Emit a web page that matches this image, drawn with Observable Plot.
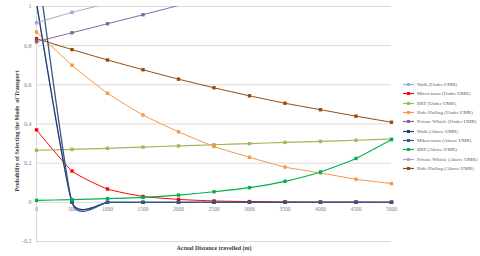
<!DOCTYPE html>
<html>
<head>
<meta charset="utf-8">
<script src="https://cdn.jsdelivr.net/npm/d3@7"></script>
<script src="https://cdn.jsdelivr.net/npm/@observablehq/plot@0.6"></script>
<style>
  html, body { margin: 0; padding: 0; background: #fff; }
  #wrap { position: relative; width: 480px; height: 256px; font-family: "Liberation Serif", serif; }
  #legend { position: absolute; left: 403px; top: 80px; font-size: 5px; color: #595959; }
  .row { height: 9.3px; display: flex; align-items: center; white-space: nowrap; }
  .row svg { margin-right: 3px; }
</style>
</head>
<body>
<div id="wrap"></div>
<script>
// ---- data ----
const distances = [0, 500, 1000, 1500, 2000, 2500, 3000, 3500, 4000, 4500, 5000];
const walkUnder   = [1.02, 0, 0, 0, 0, 0, 0, 0, 0, 0, 0];
const microUnder  = [0.37, 0.16, 0.068, 0.03, 0.015, 0.007, 0.004, 0.002, 0.001, 0.001, 0.0];
const brtUnder    = [0.266, 0.270, 0.276, 0.282, 0.288, 0.294, 0.300, 0.306, 0.311, 0.317, 0.323];
const rideUnder   = [0.87, 0.70, 0.557, 0.446, 0.36, 0.285, 0.23, 0.18, 0.15, 0.118, 0.096];
const privUnder   = [0.82, 0.866, 0.912, 0.958, 1.005];
const walkAbove   = [1.02, 0, 0, 0, 0, 0, 0, 0, 0, 0, 0];
const mikroAbove  = [1.25, 0, 0, 0, 0, 0, 0, 0, 0, 0, 0];
const brtAbove    = [0.01, 0.014, 0.019, 0.025, 0.037, 0.054, 0.075, 0.107, 0.155, 0.224, 0.32];
const privAbove   = [0.917, 0.97, 1.015];
const rideAbove   = [0.836, 0.78, 0.727, 0.677, 0.629, 0.585, 0.544, 0.506, 0.473, 0.44, 0.409];

const seriesNames = [
  "Walk (Under UMR)", "Micro-trans (Under UMR)", "BRT (Under UMR)", "Ride-Hailing (Under UMR)",
  "Private Whicle (Under UMR)", "Walk (Above UMR)", "Mikro-trans (Above UMR)", "BRT (Above UMR)",
  "Private Whicle (Above UMR)", "Ride-Hailing (Above UMR)"
];
const seriesValues = [walkUnder, microUnder, brtUnder, rideUnder, privUnder, walkAbove, mikroAbove, brtAbove, privAbove, rideAbove];
const seriesColors = ["#8DB4E2", "#FF0000", "#9BBB59", "#F79646", "#8064A2", "#1F3F73", "#3A5580", "#00B050", "#B3A2C7", "#984807"];
const seriesWidths = [1, 1, 1.2, 1, 1, 1.3, 1.3, 1.2, 1, 1];

const yTicks = [-0.2, 0, 0.2, 0.4, 0.6, 0.8, 1];
const xTicks = [0, 500, 1000, 1500, 2000, 2500, 3000, 3500, 4000, 4500, 5000];
const xTitle = "Actual Distance travelled (m)";
const yTitle = "Probability of Selecting the Mode  of Transport";

// ---- build ----
const fmt = d => d === 0 ? "0" : String(d).replace(".", ",");
const marks = [
  Plot.gridY(yTicks, {stroke: "#d9d9d9", strokeOpacity: 1, strokeWidth: 1}),
  Plot.ruleX([0], {stroke: "#d9d9d9", strokeWidth: 1}),
  Plot.axisY(yTicks, {tickSize: 0, tickPadding: 5, tickFormat: fmt, fontSize: 6, fill: "#7f7f7f", label: null}),
  Plot.text(xTicks, {x: d => d, y: 0, text: d => String(d), dy: 6.5, fontSize: 5.5, fill: "#7f7f7f"})
];
seriesNames.forEach((name, i) => {
  const data = seriesValues[i].map((v, j) => ({x: distances[j], y: v}));
  marks.push(Plot.line(data, {x: "x", y: "y", stroke: seriesColors[i], strokeWidth: seriesWidths[i], curve: "cardinal", tension: 0.5, clip: true}));
  marks.push(Plot.dot(data.filter(d => d.y <= 1), {x: "x", y: "y", symbol: "square", r: 1.9, fill: seriesColors[i], stroke: "none"}));
});

const chart = Plot.plot({
  width: 480, height: 256,
  marginLeft: 36, marginRight: 89, marginTop: 6, marginBottom: 15,
  style: {fontFamily: "Liberation Serif, serif", background: "#fff"},
  x: {domain: [0, 5000], axis: null},
  y: {domain: [-0.2, 1], axis: null},
  marks
});
const svg = d3.select(chart);
svg.append("text").attr("x", 214).attr("y", 250).attr("text-anchor", "middle")
  .attr("font-size", 6).attr("font-weight", "bold").attr("fill", "#404040").text(xTitle);
svg.append("text").attr("transform", "translate(19,131) rotate(-90)").attr("text-anchor", "middle")
  .attr("font-size", 6).attr("font-weight", "bold").attr("fill", "#404040").text(yTitle);

const wrap = document.getElementById("wrap");
wrap.appendChild(chart);

const legend = document.createElement("div");
legend.id = "legend";
seriesNames.forEach((name, i) => {
  const row = document.createElement("div");
  row.className = "row";
  row.innerHTML = `<svg width="11" height="5"><line x1="0" y1="2.5" x2="11" y2="2.5" stroke="${seriesColors[i]}" stroke-width="1.2"/><rect x="4" y="1" width="3" height="3" fill="${seriesColors[i]}"/></svg><span>${name}</span>`;
  legend.appendChild(row);
});
wrap.appendChild(legend);
</script>
</body>
</html>
